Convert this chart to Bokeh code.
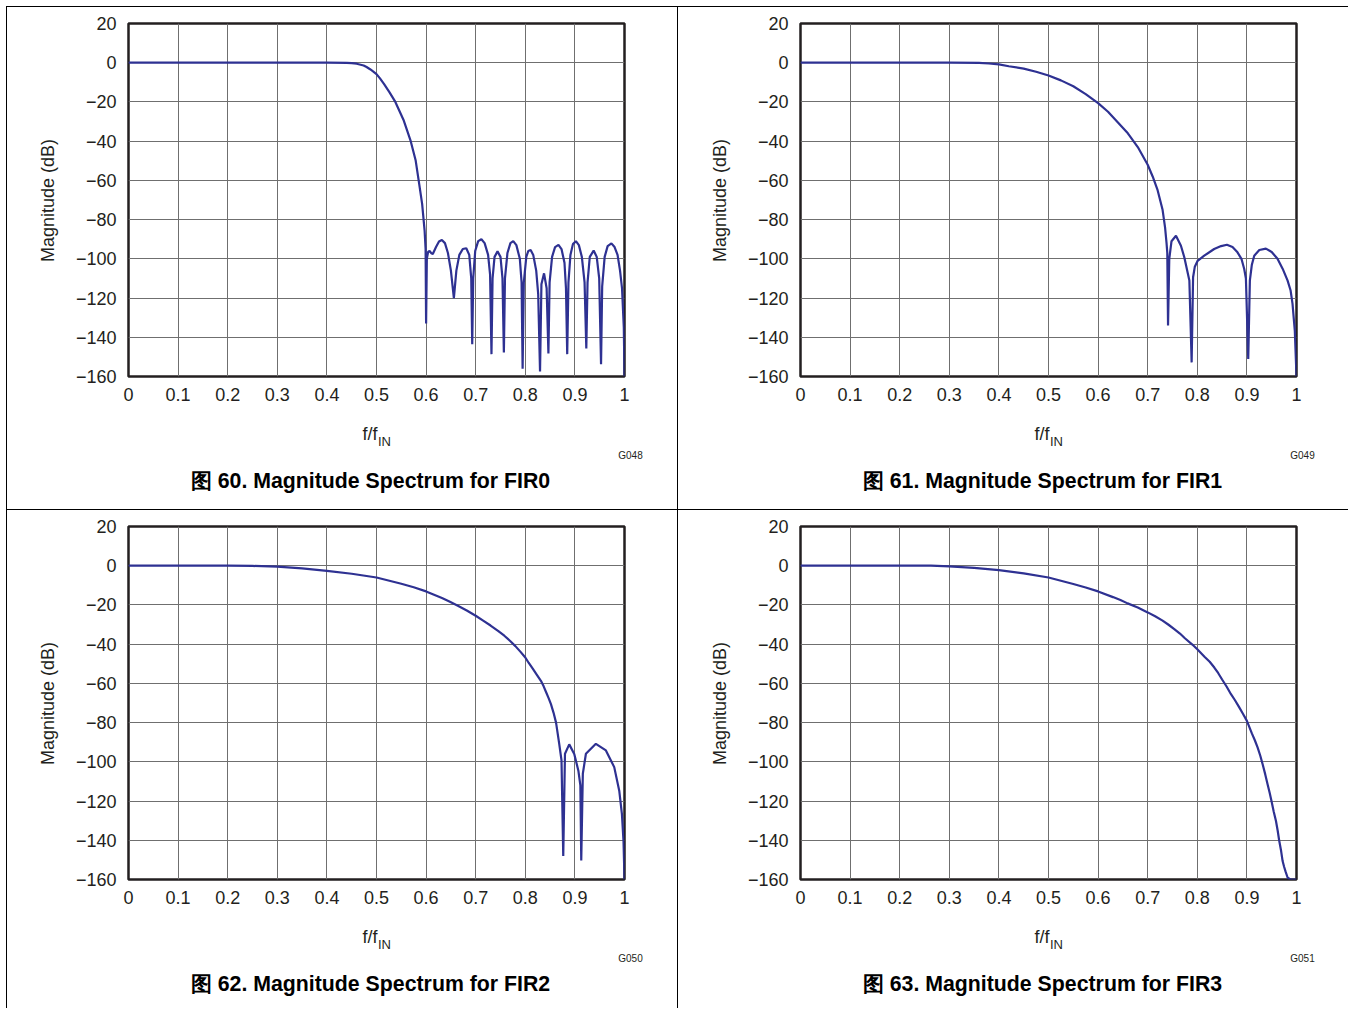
from math import pi
from bokeh.plotting import figure
from bokeh.models import FixedTicker, Label, Range1d, Div, Spacer
from bokeh.layouts import row, column
from bokeh.embed import file_html
from bokeh.resources import INLINE

# ---------------- data ----------------
x_ticks = [0, 0.1, 0.2, 0.3, 0.4, 0.5, 0.6, 0.7, 0.8, 0.9, 1]
x_tick_labels = ["0", "0.1", "0.2", "0.3", "0.4", "0.5", "0.6", "0.7", "0.8", "0.9", "1"]
y_ticks = [-160, -140, -120, -100, -80, -60, -40, -20, 0, 20]
y_tick_labels = ["\u2212160", "\u2212140", "\u2212120", "\u2212100", "\u221280",
                 "\u221260", "\u221240", "\u221220", "0", "20"]

fir0_freq = [0, 0.1, 0.2, 0.3, 0.4, 0.44, 0.45, 0.46, 0.474, 0.48, 0.487, 0.493, 0.5,
             0.507, 0.515, 0.526,
             0.538, 0.555, 0.569, 0.579, 0.585, 0.592, 0.597, 0.599, 0.6, 0.6015,
             0.604, 0.607, 0.610, 0.6135, 0.620, 0.626, 0.6318, 0.638, 0.644, 0.650,
             0.656, 0.661, 0.667, 0.674, 0.681, 0.687, 0.691, 0.693, 0.695, 0.699,
             0.705, 0.7115, 0.718, 0.725, 0.729, 0.7318, 0.734, 0.738, 0.744, 0.750,
             0.754, 0.7568, 0.759, 0.764, 0.770, 0.7757, 0.782, 0.789, 0.7925, 0.7946,
             0.797, 0.802, 0.806, 0.8108, 0.816, 0.822, 0.826, 0.8297, 0.8325, 0.8378,
             0.843, 0.8466, 0.849, 0.854, 0.860, 0.8669, 0.873, 0.879, 0.882, 0.8845,
             0.887, 0.891, 0.896, 0.902, 0.908, 0.914, 0.9195, 0.923, 0.9255, 0.930,
             0.9378, 0.944, 0.949, 0.9527, 0.955, 0.960, 0.966, 0.9736, 0.980, 0.986,
             0.991, 0.995, 0.9986, 1.0]
fir0_mag = [0, 0, 0, 0, 0, -0.1, -0.25, -0.5, -1.4, -2.2, -3.3, -4.4, -5.8,
            -8, -10.8, -15,
            -20, -29.5, -40, -49.9, -60, -72, -85.6, -95, -133, -100,
            -96.5, -96, -97, -97.5, -94, -91.2, -90.4, -92, -97, -106,
            -120, -106, -98, -95, -94.6, -98, -110, -143.5, -110, -96,
            -91, -90, -92, -98, -108, -148.6, -110, -99, -96.2, -99,
            -110, -147.7, -110, -97, -92, -91, -93, -100, -112, -156,
            -112, -99, -96, -95.5, -98, -106, -118, -157.4, -113, -107.4,
            -115, -148.2, -112, -99, -94, -92.9, -95, -102, -115, -148.6,
            -112, -98, -92.5, -91, -93, -99, -112, -145.7, -112, -99,
            -95.8, -99, -110, -153.7, -114, -99, -93.5, -92.1, -94, -98,
            -106, -115, -135, -160]

fir1_freq = [0, 0.1, 0.2, 0.3, 0.36, 0.38, 0.4, 0.42, 0.45, 0.475, 0.5, 0.525, 0.55, 0.575,
             0.6, 0.62, 0.64, 0.66, 0.68, 0.70, 0.71, 0.72, 0.73, 0.735,
             0.738, 0.7395, 0.741, 0.7435, 0.748, 0.757, 0.767, 0.7738, 0.784, 0.7886,
             0.7915, 0.795, 0.8007, 0.814, 0.834, 0.848, 0.8597, 0.871, 0.881, 0.889,
             0.8946, 0.898, 0.9027, 0.906, 0.910, 0.9148, 0.925, 0.9383, 0.950, 0.9617,
             0.972, 0.9819, 0.988, 0.992, 0.9966, 1.0]
fir1_mag = [0, 0, 0, 0, -0.1, -0.4, -0.85, -1.8, -3.0, -4.6, -6.5, -9, -12, -16,
            -20.6, -25, -30.5, -36, -43, -52, -58, -65, -75, -84,
            -92, -97, -134, -100, -91, -88.2, -93.3, -99.2, -111, -152.8,
            -109.4, -104, -101, -98.4, -95, -93.5, -92.8, -94, -96.7, -100,
            -105.2, -110, -151.1, -111, -103, -98.4, -95.5, -94.8, -96.5, -100,
            -105, -111, -116, -123, -136.7, -160]

fir2_freq = [0, 0.1, 0.2, 0.25, 0.3, 0.35, 0.4, 0.45, 0.5, 0.55, 0.575, 0.6, 0.632,
             0.648, 0.664, 0.682, 0.7, 0.715, 0.73, 0.745, 0.7577, 0.77, 0.78, 0.79, 0.8,
             0.807, 0.815, 0.823, 0.8315, 0.837, 0.842, 0.847, 0.8517,
             0.857, 0.862, 0.8684, 0.873, 0.8765, 0.880, 0.8886, 0.8987, 0.907, 0.911,
             0.9128, 0.916, 0.9222, 0.9423, 0.9625, 0.9793, 0.9894, 0.9948, 0.998, 1.0]
fir2_mag = [0, 0, 0, -0.1, -0.5, -1.4, -2.6, -4.1, -6, -9.2, -11, -13.1, -16.5,
            -18.4, -20.4, -22.8, -25.5, -28, -30.5, -33.2, -35.7, -38.5, -41, -43.8, -46.8,
            -49.6, -52.5, -55.5, -58.7, -61.5, -64.5, -67.5, -70.6,
            -75, -80, -90.8, -99.3, -148, -95.9, -91.1, -96, -104.5, -112,
            -150.3, -106, -95.9, -90.8, -94.2, -102.7, -114.7, -126.7, -140.4, -160]

fir3_freq = [0, 0.1, 0.2, 0.263, 0.3, 0.35, 0.4, 0.45, 0.5, 0.55, 0.575, 0.6, 0.63,
             0.645, 0.6595, 0.68, 0.7, 0.715, 0.73, 0.742, 0.7536, 0.765, 0.775, 0.79, 0.8,
             0.815, 0.825, 0.8343, 0.842, 0.85, 0.859, 0.8679, 0.876, 0.884, 0.892, 0.9,
             0.91, 0.916, 0.9217, 0.927, 0.932, 0.937, 0.9418, 0.946, 0.95, 0.954, 0.9586,
             0.962, 0.965, 0.969, 0.972, 0.975, 0.978, 0.9822, 0.988, 1.0]
fir3_mag = [0, 0, 0, 0, -0.3, -1.1, -2.2, -3.9, -6, -9.3, -11.1, -13.1, -16,
            -17.5, -19.2, -21.3, -23.8, -25.8, -28, -30.1, -32.3, -34.6, -37, -40.2, -42.6,
            -46.5, -49, -51.9, -54.7, -58, -61.6, -65.5, -68.6, -72, -75.5, -79.1,
            -85.5, -89, -92.8, -96.9, -101.5, -106.4, -111.5, -115.9, -120.5, -125.3, -130.2,
            -135, -140, -145.5, -150.6, -153.5, -156, -159.1, -160, -160]

titles = ["\u56fe 60. Magnitude Spectrum for FIR0", "\u56fe 61. Magnitude Spectrum for FIR1",
          "\u56fe 62. Magnitude Spectrum for FIR2", "\u56fe 63. Magnitude Spectrum for FIR3"]
codes = ["G048", "G049", "G050", "G051"]
x_label_main = "f/f"
x_label_sub = "IN"
y_label = "Magnitude (dB)"

# ---------------- layout / style ----------------
FRAME_W, FRAME_H = 496, 353
X0, X1 = 0, 1
Y0, Y1 = -160, 20
LINE_COLOR = "#2e3192"
TEXT_COLOR = "#231f20"
FONT = "Liberation Sans"


def make_panel(freq, mag, title, code, fig_w, fig_h, fig_left, fig_top, frame_left, frame_top):
    b_left = frame_left - fig_left
    b_top = frame_top - fig_top
    p = figure(width=fig_w, height=fig_h,
               x_range=Range1d(X0, X1), y_range=Range1d(Y0, Y1),
               output_backend="svg", toolbar_location=None,
               min_border_left=b_left, min_border_top=b_top,
               min_border_right=fig_w - b_left - FRAME_W,
               min_border_bottom=fig_h - b_top - FRAME_H)

    def pos(px, py):
        # page pixel position -> data coordinates of this panel
        return dict(x=X0 + (px - frame_left) * (X1 - X0) / FRAME_W,
                    y=Y1 - (py - frame_top) * (Y1 - Y0) / FRAME_H)

    p.background_fill_color = "white"
    p.border_fill_color = "white"
    p.outline_line_color = TEXT_COLOR
    p.outline_line_width = 2.5

    p.xaxis.ticker = FixedTicker(ticks=x_ticks)
    p.yaxis.ticker = FixedTicker(ticks=y_ticks)
    p.xaxis.major_label_overrides = dict(zip(x_ticks, x_tick_labels))
    p.yaxis.major_label_overrides = dict(zip(y_ticks, y_tick_labels))
    for ax in (p.xaxis[0], p.yaxis[0]):
        ax.axis_line_color = None
        ax.major_tick_line_color = None
        ax.minor_tick_line_color = None
        ax.major_tick_in = 0
        ax.major_tick_out = 0
        ax.major_label_text_font = FONT
        ax.major_label_text_font_size = "18px"
        ax.major_label_text_color = TEXT_COLOR
    p.xaxis.major_label_standoff = 11
    p.yaxis.major_label_standoff = 12

    p.grid.grid_line_color = "#6f6f6f"
    p.grid.grid_line_width = 1

    p.line(freq, mag, line_color=LINE_COLOR, line_width=2.2)

    p.add_layout(Label(**pos(frame_left - 81, frame_top + 177), text=y_label, angle=pi / 2,
                       text_font=FONT, text_font_size="18px", text_color=TEXT_COLOR,
                       text_align="center", text_baseline="middle"), "left")
    p.add_layout(Label(**pos(frame_left + 249, frame_top + 410), text=x_label_main,
                       text_font=FONT, text_font_size="18px", text_color=TEXT_COLOR,
                       text_align="right", text_baseline="middle"), "below")
    p.add_layout(Label(**pos(frame_left + 249.5, frame_top + 418), text=x_label_sub,
                       text_font=FONT, text_font_size="13px", text_color=TEXT_COLOR,
                       text_align="left", text_baseline="middle"), "below")
    p.add_layout(Label(**pos(frame_left + 502, frame_top + 432), text=code,
                       text_font=FONT, text_font_size="10px", text_color=TEXT_COLOR,
                       text_align="center", text_baseline="middle"), "below")
    p.add_layout(Label(**pos(frame_left + 242, frame_top + 457), text=title,
                       text_font=FONT, text_font_size="21.3px", text_font_style="bold",
                       text_color="black", text_align="center", text_baseline="middle"), "below")
    return p


p1 = make_panel(fir0_freq, fir0_mag, titles[0], codes[0], 670, 502, 7, 7, 128, 23)
p2 = make_panel(fir1_freq, fir1_mag, titles[1], codes[1], 670, 502, 678, 7, 800, 23)
p3 = make_panel(fir2_freq, fir2_mag, titles[2], codes[2], 670, 498, 7, 510, 128, 526)
p4 = make_panel(fir3_freq, fir3_mag, titles[3], codes[3], 670, 498, 678, 510, 800, 526)


def rule(w, h):
    return Div(text="", width=w, height=h, margin=0,
               styles={"background-color": "#000000"})


inner = column(
    rule(1341, 1),
    row(p1, rule(1, 502), p2, spacing=0),
    rule(1341, 1),
    row(p3, rule(1, 498), p4, spacing=0),
    spacing=0,
)
layout = column(
    Spacer(height=6, width=1348, margin=0),
    row(Spacer(width=6, height=1002, margin=0), rule(1, 1002), inner, spacing=0),
    spacing=0,
)

open("out.html", "w").write(file_html(layout, INLINE))
